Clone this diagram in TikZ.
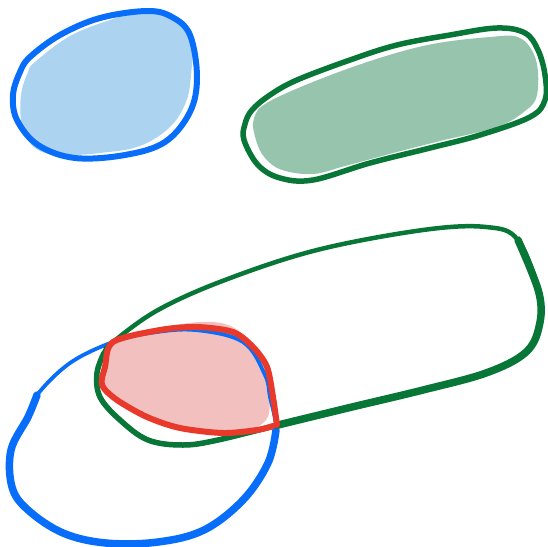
\documentclass[tikz,border=0pt]{standalone}
\definecolor{bline}{RGB}{8,110,250}
\definecolor{bfill}{RGB}{172,212,240}
\definecolor{gline}{RGB}{7,118,55}
\definecolor{gfill}{RGB}{150,196,173}
\definecolor{rline}{RGB}{233,57,42}
\definecolor{rfill}{RGB}{242,193,191}
\tikzset{
  outl/.style={line cap=round, line join=round},
}
\begin{document}
\begin{tikzpicture}[x=1pt,y=-1pt]
\useasboundingbox (0,0) rectangle (548,546);
% top blue set
\fill[bfill] plot[smooth cycle, tension=0.6] coordinates {(35,62) (70,36) (110,20) (150,9) (176,20) (192,38) (191,75) (186,102) (170,127) (140,146) (100,153) (60,155) (35,148) (22,125) (21,95) (28,72)};
\draw[bline, line width=6pt, outl] plot[smooth cycle, tension=0.6] coordinates {(30,57) (60,35) (100,18) (147,11) (172,17) (190,35) (197,77) (190,112) (165,142) (125,155) (75,158) (38,145) (17,120) (13,95) (20,72)};
% top green set
\fill[gfill] plot[smooth cycle, tension=0.6] coordinates {(254,118) (272,100) (347,69) (423,46) (490,37) (520,38) (536,60) (537,95) (525,111) (497,127) (440,141) (397,152) (345,166) (313,174) (282,170) (265,158) (256,140)};
\draw[gline, line width=5.5pt, outl] plot[smooth cycle, tension=0.6] coordinates {(252,110) (270,95) (297,80) (350,60) (397,45) (450,35) (497,28) (525,33) (538,50) (545,75) (545,100) (530,117) (480,135) (430,148) (370,163) (313,180) (280,178) (258,165) (244,140) (245,124)};
% intersection fill
\fill[rfill] plot[smooth cycle, tension=0.6] coordinates {(115,340) (160,328) (200,322) (228,325) (248,340) (262,365) (269,395) (266,420) (240,433) (200,432) (160,422) (125,405) (105,385) (108,360)};
% bottom blue set
\draw[bline, line width=3.8pt, outl] plot[smooth cycle, tension=0.6] coordinates {(113,342) (70,363) (37,395) (28,417) (11,450) (12,487) (28,510) (63,533) (106,543) (158,542) (204,530) (243,500) (268,463) (276,430) (270,397) (265,375) (243,342) (195,330) (150,333)};
\draw[bline, line width=7.5pt, outl] plot[smooth, tension=0.6] coordinates {(37,395) (28,417) (11,450) (12,487) (28,510) (63,533) (106,543) (158,542) (204,530) (243,500) (268,463) (276,430)};
% bottom green set
\draw[gline, line width=4.5pt, outl] plot[smooth cycle, tension=0.6] coordinates {(113,342) (158,310) (225,280) (317,250) (423,230) (486,227) (518,240) (539,293) (539,327) (525,353) (486,373) (423,390) (352,407) (278,425) (218,440) (183,445) (148,440) (120,420) (100,397) (97,373) (104,353)};
\draw[gline, line width=7.5pt, outl] plot[smooth, tension=0.6] coordinates {(518,240) (539,293) (539,327) (525,353) (486,373) (423,390) (352,407) (278,425)};
\draw[gline, line width=5.5pt, outl] plot[smooth, tension=0.6] coordinates {(278,425) (218,440) (183,445) (148,440) (120,420) (100,397) (97,373) (104,353)};
% intersection outline
\draw[rline, line width=6pt, outl] plot[smooth, tension=0.5] coordinates {(277,425) (273,397) (267,367) (253,347) (233,332) (197,327) (160,330) (113,342) (105,367) (102,385) (117,400) (147,417) (180,428) (223,433) (257,430) (273,426)};
\end{tikzpicture}
\end{document}
